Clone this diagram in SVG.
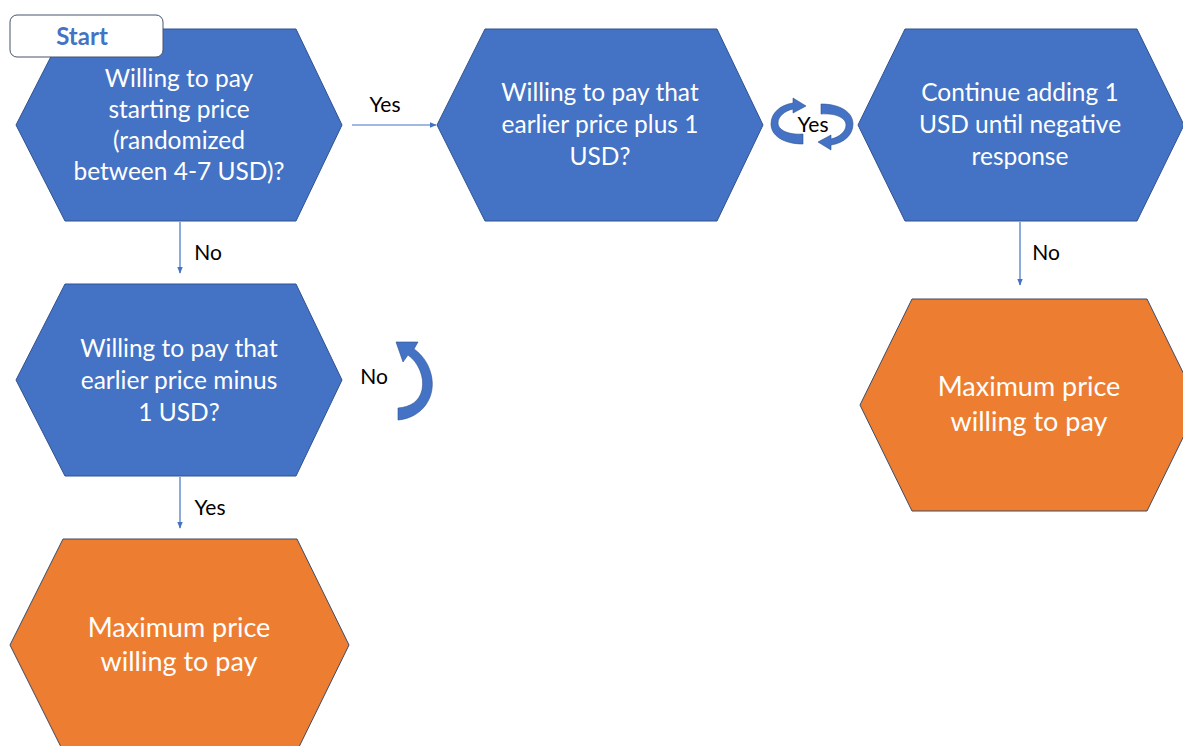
<svg xmlns="http://www.w3.org/2000/svg" width="1183" height="746" viewBox="0 0 1183 746">
<style>
.blue{fill:#4472C4;stroke:#2F528F;stroke-width:1}
.orange{fill:#ED7D31;stroke:#3E4A63;stroke-width:1}
.t{font-family:Lato,"Open Sans",sans-serif;fill:#fff;text-anchor:middle}
.tb{font-size:24.5px}
.to{font-size:27px}
.lbl{font-family:Lato,"Open Sans",sans-serif;font-size:21px;fill:#000;text-anchor:middle}
.con{stroke:#4472C4;stroke-width:1.2;fill:none;marker-end:url(#ah)}
.curv{fill:#4472C4;stroke:#2F528F;stroke-width:0.6}
</style>
<defs>
<marker id="ah" viewBox="0 0 10 10" refX="9" refY="5" markerWidth="7" markerHeight="7" orient="auto" markerUnits="userSpaceOnUse">
<path d="M0,1 L10,5 L0,9 Z" fill="#4472C4"/>
</marker>
</defs>
<rect width="1183" height="746" fill="#fff"/>

<g id="connectors">
<line class="con" x1="352" y1="125" x2="436" y2="125"/>
<line class="con" x1="180" y1="222" x2="180" y2="273"/>
<line class="con" x1="180" y1="477" x2="180" y2="528"/>
<line class="con" x1="1020" y1="222" x2="1020" y2="285"/>
<path class="curv" d="M 398 420 C 422 418, 437 397, 431 374 C 428 362, 421 354, 414 349 L 418 342 L 396 342 L 403 362 L 408 355 C 418 362, 425 377, 422 390 C 419 402, 410 407, 398 408 Z"/>
<path class="curv" d="M 803 144 C 784 144, 771 136, 771 124 C 771 113, 780 105, 793 103 L 793 98 L 806 106 L 793 113 L 793 109 C 784 111, 778 117, 778 123 C 778 130, 788 135, 803 134 Z"/>
<path class="curv" d="M 821 104 C 840 104, 853 112, 853 124 C 853 135, 844 143, 831 145 L 831 150 L 818 142 L 831 135 L 831 139 C 840 137, 846 131, 846 125 C 846 118, 836 113, 821 114 Z"/>
<text class="lbl" x="385" y="112">Yes</text>
<text class="lbl" x="208" y="260">No</text>
<text class="lbl" x="210" y="515">Yes</text>
<text class="lbl" x="1046" y="260">No</text>
<text class="lbl" x="374" y="384">No</text>
<text class="lbl" x="813" y="132">Yes</text>
</g>

<g id="q-start">
<polygon class="blue" points="65,29 296,29 342,125 296,221 65,221 16,125"/>
<text class="t tb" x="179" y="87">Willing to pay</text>
<text class="t tb" x="179" y="118">starting price</text>
<text class="t tb" x="179" y="149">(randomized</text>
<text class="t tb" x="179" y="180">between 4-7 USD)?</text>
</g>

<g id="start">
<rect x="10" y="15" width="153" height="42" rx="7" fill="#fff" stroke="#44546A" stroke-width="1"/>
<text x="82" y="45" font-family="Lato,'Open Sans',sans-serif" font-size="24px" font-weight="bold" fill="#4472C4" text-anchor="middle">Start</text>
</g>

<g id="q-plus">
<polygon class="blue" points="485,29 717,29 763,125 717,221 485,221 437,125"/>
<text class="t tb" x="600" y="101">Willing to pay that</text>
<text class="t tb" x="600" y="133">earlier price plus 1</text>
<text class="t tb" x="600" y="165">USD?</text>
</g>

<g id="continue">
<polygon class="blue" points="905,29 1137,29 1184,125 1137,221 905,221 858,125"/>
<text class="t tb" x="1020" y="101">Continue adding 1</text>
<text class="t tb" x="1020" y="133">USD until negative</text>
<text class="t tb" x="1020" y="165">response</text>
</g>

<g id="q-minus">
<polygon class="blue" points="65,284 296,284 342,380 296,476 65,476 16,380"/>
<text class="t tb" x="179" y="357">Willing to pay that</text>
<text class="t tb" x="179" y="389">earlier price minus</text>
<text class="t tb" x="179" y="421">1 USD?</text>
</g>

<g id="max-left">
<polygon class="orange" points="63,539 297,539 349,645 297,751 63,751 10,645"/>
<text class="t to" x="179" y="637">Maximum price</text>
<text class="t to" x="179" y="671">willing to pay</text>
</g>

<g id="max-right">
<polygon class="orange" points="912,299 1147,299 1199,405 1147,511 912,511 860,405"/>
<text class="t to" x="1029" y="396">Maximum price</text>
<text class="t to" x="1029" y="431">willing to pay</text>
</g>
</svg>
